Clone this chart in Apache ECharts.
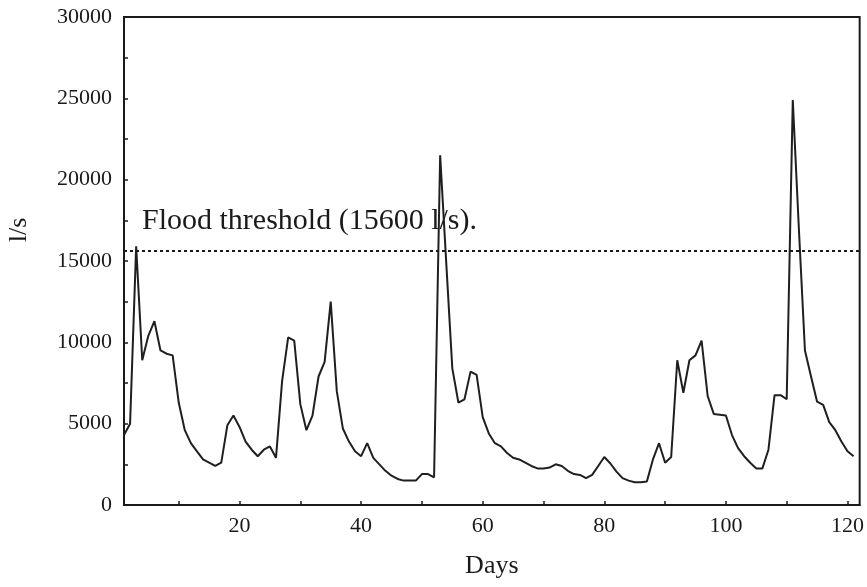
<!DOCTYPE html>
<html>
<head>
<meta charset="utf-8">
<script src="https://cdn.jsdelivr.net/npm/echarts@6/dist/echarts.min.js"></script>
<style>
  html, body { margin: 0; padding: 0; background: #fff; }
  #chart { width: 867px; height: 587px; }
</style>
</head>
<body>
<div id="chart"></div>
<script>
// Days (x values)
const days = [
  1,2,3,4,5,6,7,8,9,10,11,12,13,14,15,16,17,18,19,20,
  21,22,23,24,25,26,27,28,29,30,31,32,33,34,35,36,37,38,39,40,
  41,42,43,44,45,46,47,48,49,50,51,52,53,54,55,56,57,58,59,60,
  61,62,63,64,65,66,67,68,69,70,71,72,73,74,75,76,77,78,79,80,
  81,82,83,84,85,86,87,88,89,90,91,92,93,94,95,96,97,98,99,100,
  101,102,103,104,105,106,107,108,109,110,111,112,113,114,115,116,117,118,119,120,
  121
];
// Discharge (l/s)
const flow = [
  4300,5000,15900,8900,10400,11300,9500,9300,9200,6300,
  4600,3800,3300,2800,2600,2400,2600,4900,5500,4800,
  3900,3400,3000,3400,3600,2900,7600,10300,10100,6200,
  4600,5500,7900,8800,12500,7000,4700,3900,3300,3000,
  3800,2900,2500,2100,1800,1600,1500,1500,1500,1900,
  1900,1700,21500,14900,8400,6300,6500,8200,8000,5400,
  4400,3800,3600,3200,2900,2800,2600,2400,2250,2250,
  2300,2500,2400,2100,1900,1850,1650,1850,2400,2950,
  2550,2050,1650,1500,1400,1400,1450,2800,3800,2600,
  2950,8900,6900,8900,9200,10100,6700,5600,5550,5500,
  4300,3500,3000,2600,2250,2250,3400,6750,6750,6500,
  24900,17000,9500,7900,6350,6150,5100,4600,3900,3300,
  3000
];
const threshold = 15600;
const thresholdLabel = 'Flood threshold (15600 l/s).';
const xLabelValues = [20, 40, 60, 80, 100, 120];
const xTickValues = [10, 20, 30, 40, 50, 60, 70, 80, 90, 100, 110, 120];
const yTickValues = [0, 2500, 5000, 7500, 10000, 12500, 15000, 17500, 20000, 22500, 25000, 27500, 30000];

const serif = '"Liberation Serif", "DejaVu Serif", serif';
const chart = echarts.init(document.getElementById('chart'), null, { renderer: 'canvas' });

chart.setOption({
  animation: false,
  backgroundColor: '#ffffff',
  grid: {
    left: 124, right: 7, top: 17, bottom: 82,
    show: true, borderColor: '#1a1a1a', borderWidth: 2, backgroundColor: 'transparent'
  },
  xAxis: {
    type: 'value',
    min: 1, max: 122,
    name: 'Days',
    nameLocation: 'middle',
    nameGap: 48,
    nameTextStyle: { fontFamily: serif, fontSize: 26, color: '#1a1a1a' },
    axisLine: { show: true, lineStyle: { color: '#1a1a1a', width: 2 } },
    axisTick: { show: true, inside: true, length: 4, customValues: xTickValues, lineStyle: { color: '#1a1a1a', width: 1.5 } },
    axisLabel: { customValues: xLabelValues, fontFamily: serif, fontSize: 22, color: '#1a1a1a', margin: 10 },
    splitLine: { show: false }
  },
  yAxis: {
    type: 'value',
    min: 0, max: 30000, interval: 5000,
    axisLine: { show: true, lineStyle: { color: '#1a1a1a', width: 2 } },
    axisTick: { show: true, inside: true, length: 4, customValues: yTickValues, lineStyle: { color: '#1a1a1a', width: 1.5 } },
    axisLabel: { fontFamily: serif, fontSize: 22, color: '#1a1a1a', margin: 12, formatter: (v) => String(v) },
    splitLine: { show: false }
  },
  graphic: [
    {
      type: 'text',
      x: 19, y: 230,
      rotation: Math.PI / 2,
      style: {
        text: 'l/s',
        font: '26px ' + serif,
        fill: '#1a1a1a',
        align: 'center',
        verticalAlign: 'middle'
      }
    },
    {
      type: 'text',
      x: 142, y: 221,
      style: {
        text: thresholdLabel,
        font: '30px ' + serif,
        fill: '#1a1a1a',
        align: 'left',
        verticalAlign: 'middle'
      }
    }
  ],
  series: [
    {
      type: 'line',
      data: days.map((d, i) => [d, flow[i]]),
      symbol: 'none',
      lineStyle: { color: '#1f1f1f', width: 2 },
      markLine: {
        silent: true,
        symbol: 'none',
        label: { show: false },
        lineStyle: { color: '#1a1a1a', type: [3, 3], width: 2 },
        data: [{ yAxis: threshold }]
      }
    }
  ]
});
</script>
</body>
</html>
